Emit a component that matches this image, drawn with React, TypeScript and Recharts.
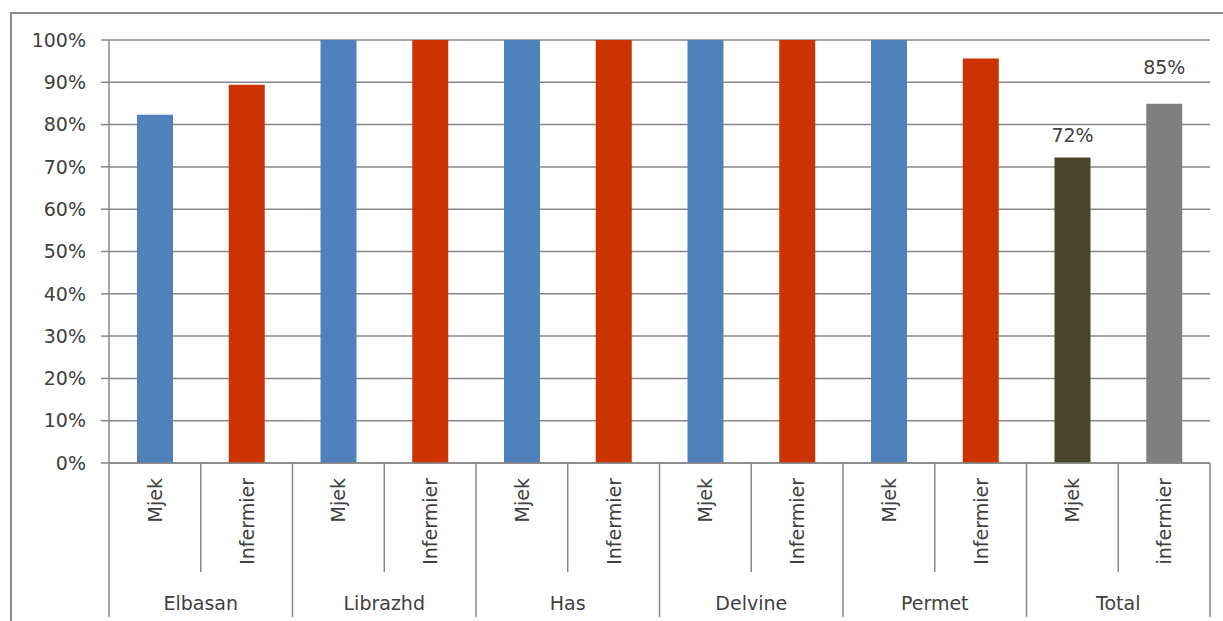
import React from "react";
import { BarChart, Bar, XAxis, YAxis, CartesianGrid, Cell, LabelList } from "recharts";

const groups = ["Elbasan", "Librazhd", "Has", "Delvine", "Permet", "Total"];
const subLabels = ["Mjek", "Infermier", "Mjek", "Infermier", "Mjek", "Infermier", "Mjek", "Infermier", "Mjek", "Infermier", "Mjek", "infermier"];
const values = [82.3, 89.4, 100, 100, 100, 100, 100, 100, 100, 95.6, 72.2, 84.9];
const barLabels = ["", "", "", "", "", "", "", "", "", "", "72%", "85%"];
const barColors = ["#4F81BD", "#CC3300", "#4F81BD", "#CC3300", "#4F81BD", "#CC3300", "#4F81BD", "#CC3300", "#4F81BD", "#CC3300", "#494429", "#7F7F7F"];
const yTicks = [0, 10, 20, 30, 40, 50, 60, 70, 80, 90, 100];

const data = values.map((v, i) => ({
  key: `${groups[Math.floor(i / 2)]}-${i}`,
  sub: subLabels[i],
  group: groups[Math.floor(i / 2)],
  value: v,
  label: barLabels[i],
}));

const FONT = "DejaVu Sans";
const TEXT = "#404040";
const LINE = "#878787";

const SubTick = (props: any) => {
  const { x, y, payload, width } = props;
  const idx = payload.index;
  const half = payload.offset ?? width / (values.length * 2);
  const row = data[idx];
  const left = x - half;
  const isGroupStart = idx % 2 === 0;
  return (
    <g>
      <line x1={left} x2={left} y1={y} y2={isGroupStart ? y + 154 : y + 109} stroke={LINE} strokeWidth={1.5} />
      {idx === values.length - 1 && (
        <line x1={x + half} x2={x + half} y1={y} y2={y + 154} stroke={LINE} strokeWidth={1.5} />
      )}
      <text
        x={x}
        y={y + 15}
        transform={`rotate(-90, ${x}, ${y + 15})`}
        textAnchor="end"
        dominantBaseline="central"
        fontFamily={FONT}
        fontSize={19}
        fill={TEXT}
      >
        {row.sub}
      </text>
      {isGroupStart && (
        <text x={x + half} y={y + 147} textAnchor="middle" fontFamily={FONT} fontSize={19} fill={TEXT}>
          {row.group}
        </text>
      )}
    </g>
  );
};

const BarValueLabel = (props: any) => {
  const { x, y, width, value, index } = props;
  if (!value) return null;
  const lift = index === values.length - 1 ? 30 : 16;
  return (
    <text x={x + width / 2} y={y - lift} textAnchor="middle" fontFamily={FONT} fontSize={19} fill={TEXT}>
      {value}
    </text>
  );
};

export default function App() {
  return (
    <div style={{ position: "absolute", left: 0, top: 0, width: 1223, height: 621, background: "#fff", overflow: "hidden" }}>
      <div
        style={{
          position: "absolute",
          left: 10,
          top: 12,
          width: 1223,
          height: 621,
          borderTop: "2px solid #8c8c8c",
          borderLeft: "2px solid #8c8c8c",
        }}
      />
      <div style={{ position: "absolute", left: 0, top: 0 }}>
        <BarChart width={1223} height={621} data={data} margin={{ top: 40, right: 13, bottom: 0, left: 0 }}>
          <CartesianGrid vertical={false} stroke={LINE} strokeWidth={1.5} />
          <XAxis
            dataKey="key"
            height={158}
            interval={0}
            tickLine={false}
            tickSize={0}
            tickMargin={0}
            axisLine={{ stroke: LINE, strokeWidth: 1.5 }}
            tick={<SubTick />}
          />
          <YAxis
            width={109}
            domain={[0, 100]}
            ticks={yTicks}
            interval={0}
            tickFormatter={(v: number) => `${v}%`}
            tickSize={8}
            tickMargin={15}
            axisLine={{ stroke: LINE, strokeWidth: 1.5 }}
            tickLine={{ stroke: LINE, strokeWidth: 1.5 }}
            tick={{ fontFamily: FONT, fontSize: 19, fill: TEXT }}
          />
          <Bar dataKey="value" barSize={36} isAnimationActive={false}>
            {data.map((d, i) => (
              <Cell key={d.key} fill={barColors[i]} />
            ))}
            <LabelList dataKey="label" content={<BarValueLabel />} />
          </Bar>
        </BarChart>
      </div>
    </div>
  );
}
